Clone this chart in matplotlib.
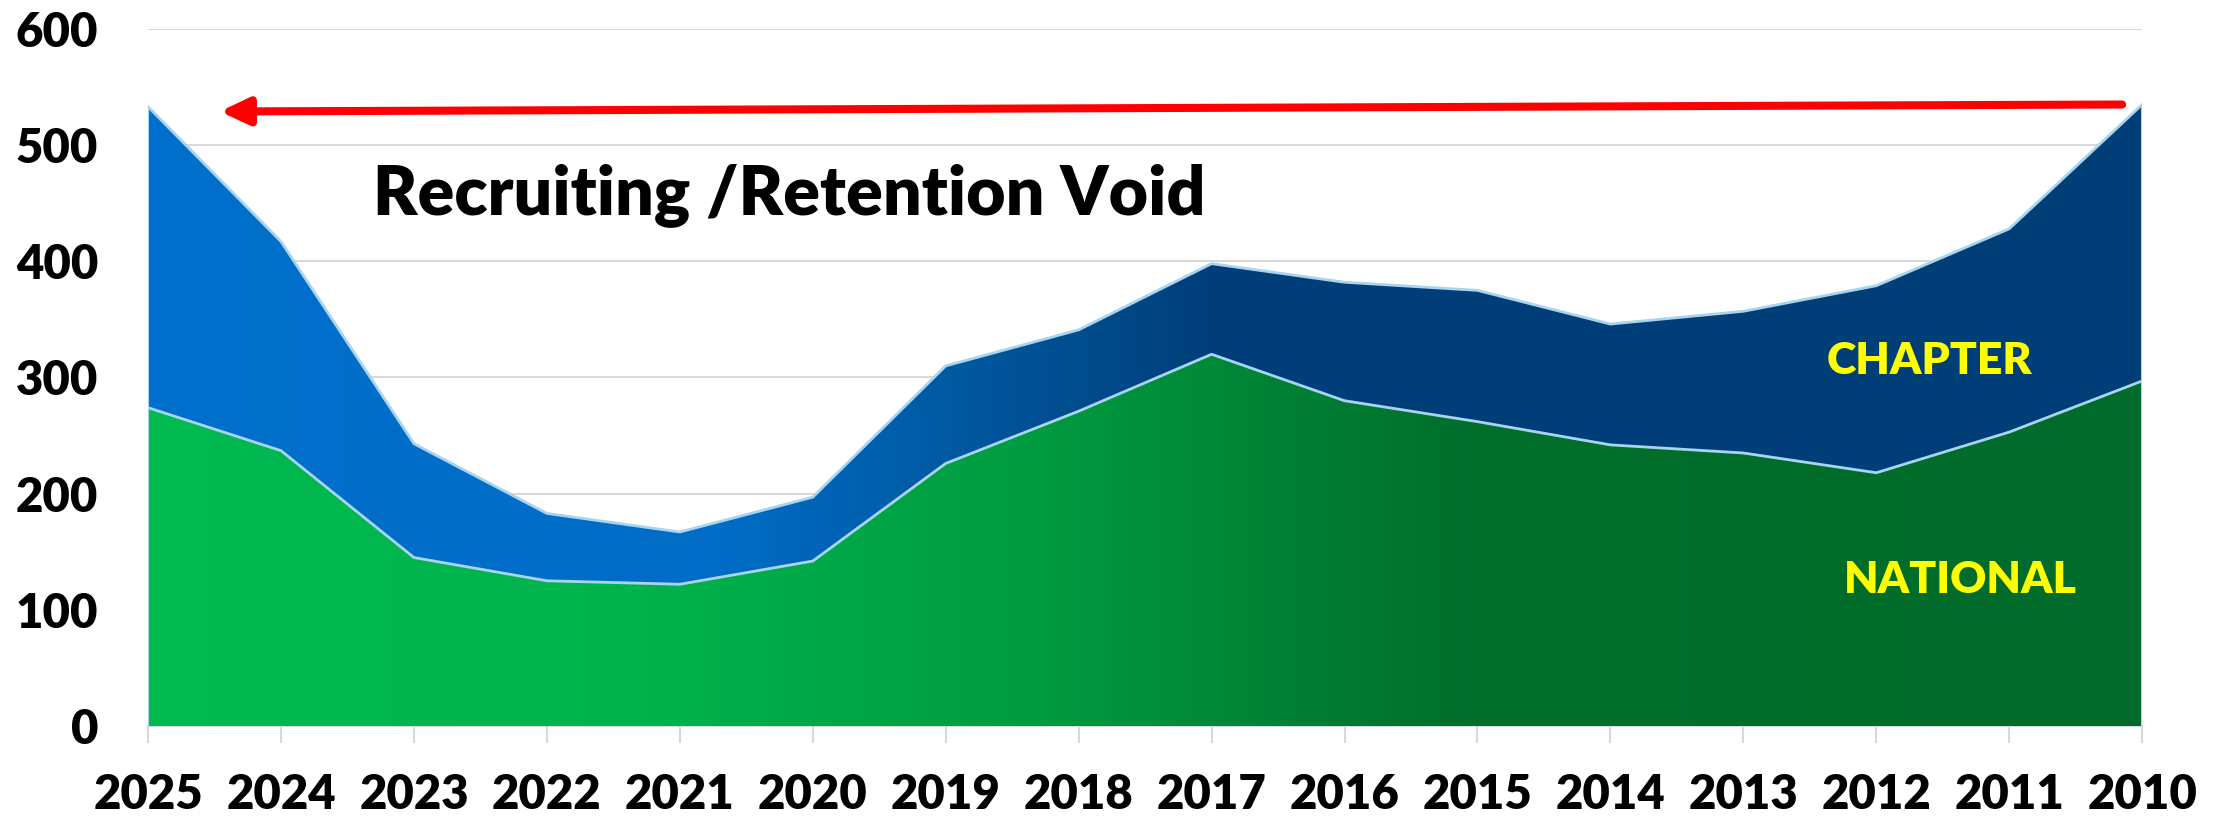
import numpy as np
import matplotlib
matplotlib.use("Agg")
import matplotlib.pyplot as plt
from matplotlib.colors import LinearSegmentedColormap

years = ["2025", "2024", "2023", "2022", "2021", "2020", "2019", "2018",
         "2017", "2016", "2015", "2014", "2013", "2012", "2011", "2010"]
national = [274, 237, 145, 125, 122, 142, 226, 271, 320, 280, 262, 242, 235, 218, 253, 297]
total = [533, 417, 243, 183, 167, 197, 310, 341, 398, 382, 375, 346, 357, 379, 428, 535]

plt.rcParams['font.family'] = ['Lato', 'DejaVu Sans']
WEIGHT = "heavy"

fig = plt.figure(figsize=(22.27, 8.17), dpi=100)
ax = fig.add_axes([0.0665, 0.1114, 0.8954, 0.8531])

x = np.arange(len(years))
n = len(years) - 1

# gradients along x (in fraction of the axis)
green_cmap = LinearSegmentedColormap.from_list(
    "g", [(0, "#00BA50"), (0.25, "#00B24C"), (0.45, "#009A40"), (0.66, "#006E2C"), (1, "#006B2A")])
blue_cmap = LinearSegmentedColormap.from_list(
    "b", [(0, "#0070CC"), (0.29, "#006CC6"), (0.42, "#00569C"), (0.53, "#003F7A"), (1, "#003E78")])

grad = np.linspace(0, 1, 512).reshape(1, -1)

poly_nat = ax.fill_between(x, 0, national, color="none", lw=0)
poly_chap = ax.fill_between(x, national, total, color="none", lw=0)

im1 = ax.imshow(grad, cmap=green_cmap, aspect="auto", extent=[0, n, 0, 600], zorder=2)
im1.set_clip_path(poly_nat.get_paths()[0], transform=ax.transData)
im2 = ax.imshow(grad, cmap=blue_cmap, aspect="auto", extent=[0, n, 0, 600], zorder=2)
im2.set_clip_path(poly_chap.get_paths()[0], transform=ax.transData)

ax.plot(x, national, color="#A9D4EE", lw=2, zorder=3)
ax.plot(x, total, color="#A9D4EE", lw=2, zorder=3)
ax.plot([0, 0], [0, total[0]], color="#A9D4EE", lw=1.5, zorder=3)
ax.plot([n, n], [0, total[-1]], color="#A9D4EE", lw=1.5, zorder=3)

ax.set_xlim(0, n)
ax.set_ylim(0, 600)
ax.set_yticks(range(0, 601, 100))
ax.set_xticks(x)
ax.set_xticklabels(years)
ax.grid(axis="y", color="#D9D9D9", lw=1.5, zorder=0)
ax.set_axisbelow(True)
for s in ["top", "right", "left"]:
    ax.spines[s].set_visible(False)
ax.spines["bottom"].set_color("#D9D9D9")
ax.spines["bottom"].set_linewidth(1.5)
ax.spines["bottom"].set_zorder(1)
ax.tick_params(axis="y", length=0, pad=36, labelsize=34)
ax.tick_params(axis="x", length=12, width=1.5, color="#D9D9D9", pad=22, labelsize=34)
for lab in ax.get_xticklabels() + ax.get_yticklabels():
    lab.set_fontweight(WEIGHT)

# red arrow
ax.annotate("", xy=(0.54, 529), xytext=(14.85, 535),
            arrowprops=dict(arrowstyle="-|>,head_length=1.7,head_width=0.8",
                            color="#FF0000", lw=5.8, shrinkA=0, shrinkB=0), zorder=5)

ax.text(1.69, 457, "Recruiting /Retention Void", fontsize=49, fontweight=WEIGHT,
        va="center", ha="left", zorder=5)
ax.text(13.4, 314, "CHAPTER", fontsize=32, fontweight=WEIGHT, color="#FFFF00",
        ha="center", va="center", zorder=5)
ax.text(13.63, 126, "NATIONAL", fontsize=32, fontweight=WEIGHT, color="#FFFF00",
        ha="center", va="center", zorder=5)

fig.savefig("out.png", dpi=100)
